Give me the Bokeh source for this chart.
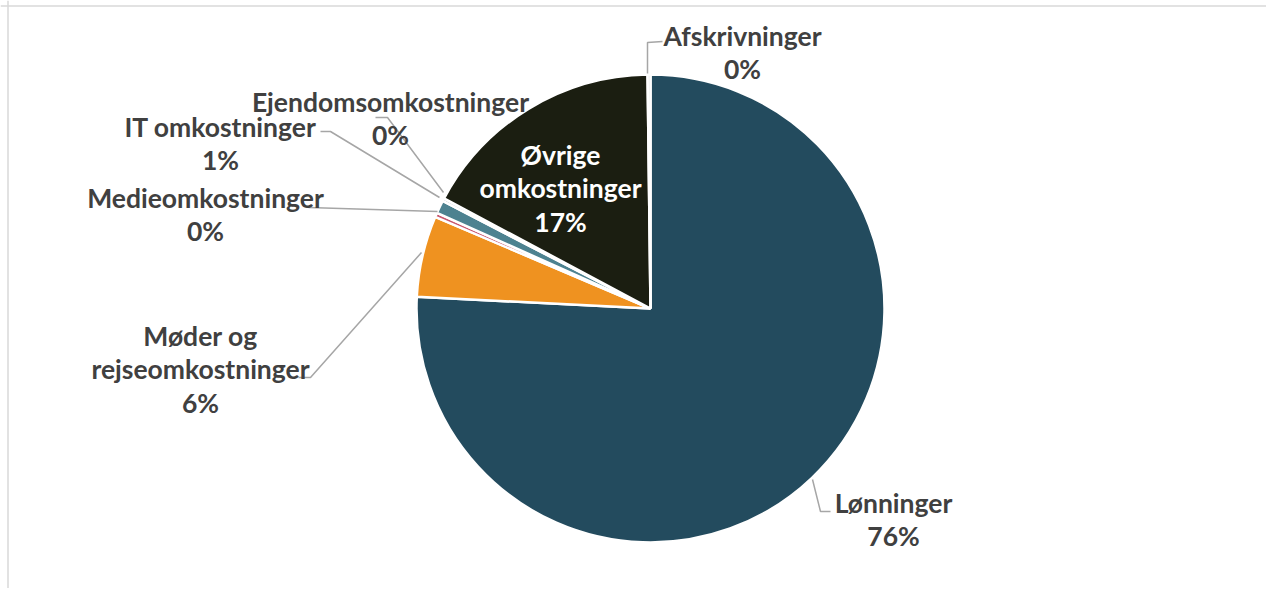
import math
from bokeh.plotting import figure
from bokeh.models import Range1d, Span
from bokeh.core.properties import value
from bokeh.embed import file_html
from bokeh.resources import INLINE

# ---- data ----
categories = ["Lønninger", "Møder og rejseomkostninger", "Medieomkostninger",
              "IT omkostninger", "Ejendomsomkostninger", "Øvrige omkostninger",
              "Afskrivninger"]
shares = [75.8, 5.6, 0.3, 0.9, 0.2, 17.0, 0.2]
label_lines = [["Lønninger"], ["Møder og", "rejseomkostninger"], ["Medieomkostninger"],
               ["IT omkostninger"], ["Ejendomsomkostninger"], ["Øvrige", "omkostninger"],
               ["Afskrivninger"]]
colors = ["#234B5E", "#EF9220", "#C9586F", "#4D8290", "#8FA3A8", "#1B1E11", "#D8D8D8"]

W, H = 1266, 588
OX, OY = 0, 0


def X(sx):
    return sx - OX


def Y(sy):
    return (OY + H) - sy


p = figure(width=W, height=H, output_backend="svg", toolbar_location=None,
           x_range=Range1d(0, W), y_range=Range1d(0, H), min_border=0)
p.axis.visible = False
p.grid.visible = False
p.outline_line_color = None
p.background_fill_color = "white"

# frame lines (left & top visible in reference)
p.add_layout(Span(location=X(7.5), dimension="height", line_color="#D9D9D9", line_width=1.5))
p.add_layout(Span(location=Y(5.5), dimension="width", line_color="#D9D9D9", line_width=1.5))

# ---- pie ----
cx, cy, r = X(650), Y(308), 234
total = sum(shares)
starts, ends = [], []
acc = 0.0
for v in shares:
    starts.append(math.pi / 2 - 2 * math.pi * acc / total)
    acc += v
    ends.append(math.pi / 2 - 2 * math.pi * acc / total)

p.wedge(x=[cx] * len(shares), y=[cy] * len(shares), radius=r,
        start_angle=starts, end_angle=ends, direction="clock",
        fill_color=colors, line_color="white", line_width=2.5)

# ---- leader lines ----
leaders = [
    [(812, 479), (820, 511), (830, 511)],
    [(421, 252), (310, 377), (298, 377)],
    [(437, 211), (308, 207)],
    [(439, 197), (330, 131), (320, 131)],
    [(443, 192), (387, 117), (375, 117)],
    None,
    [(647, 73), (647, 42), (662, 41)],
]
for ld in leaders:
    if ld is None:
        continue
    p.line([X(a) for a, b in ld], [Y(b) for a, b in ld], line_color="#A6A6A6", line_width=1.5)

# ---- labels ----
label_pos = [
    (893, 502), (200, 335), (205, 197), (220, 126), (390, 101), (560, 154), (742, 35)
]
line_gap = 33.5
for i, (lines, (lx, ly)) in enumerate(zip(label_lines, label_pos)):
    pct = f"{round(shares[i] / total * 100)}%"
    allines = lines + [pct]
    col = "white" if categories[i] == "Øvrige omkostninger" else "#404040"
    xs = [X(lx)] * len(allines)
    ys = [Y(ly + k * line_gap) for k in range(len(allines))]
    p.text(x=xs, y=ys, text=allines, text_align="center", text_baseline="middle",
           text_font=value("Lato"), text_font_style="bold", text_font_size="26.5px",
           text_color=col)

open("out.html", "w").write(file_html(p, INLINE))
